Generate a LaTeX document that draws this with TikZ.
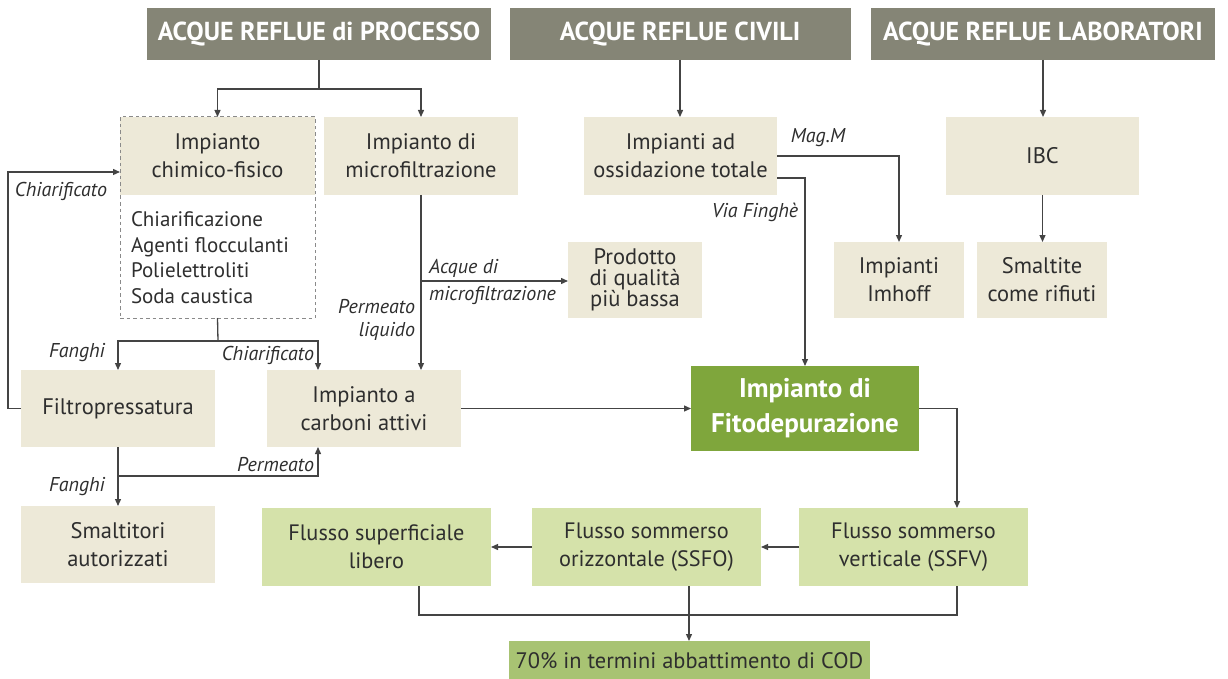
\documentclass[tikz,border=0pt]{standalone}
\usepackage{fontspec}
\setmainfont{PT Sans}
\usetikzlibrary{arrows.meta,calc}
\definecolor{hdr}{HTML}{858576}
\definecolor{beige}{HTML}{EDE9D8}
\definecolor{lgreen}{HTML}{D5E2AA}
\definecolor{dgreen}{HTML}{7FA63C}
\definecolor{mgreen}{HTML}{A8C373}
\definecolor{ink}{HTML}{2E2E2E}
\definecolor{wire}{HTML}{444444}
\definecolor{dashc}{HTML}{8A8A8A}
\begin{document}
\begin{tikzpicture}[x=1pt,y=-1pt,
  every node/.style={inner sep=0pt,outer sep=0pt},
  hdrbox/.style={fill=hdr,text=white,minimum height=52pt,
    font=\fontsize{26}{30}\selectfont\bfseries},
  box/.style={fill=beige,text=ink,align=center,
    font=\fontsize{22.5}{28}\selectfont},
  gbox/.style={fill=lgreen,text=ink,align=center,minimum width=229pt,minimum height=78pt,
    font=\fontsize{22.3}{28}\selectfont},
  lbl/.style={text=ink,font=\fontsize{20}{26}\selectfont\itshape},
  wireline/.style={draw=wire,line width=1.3pt},
  arr/.style={wireline,-{Triangle[length=7pt,width=6pt]}}
]
\useasboundingbox (0,0) rectangle (1228,679);

% source headers
\node[hdrbox,minimum width=344pt] (hProc) at (319,34) {ACQUE REFLUE di PROCESSO};
\node[hdrbox,minimum width=341pt] (hCiv) at (680,34) {ACQUE REFLUE CIVILI};
\node[hdrbox,minimum width=344pt] (hLab) at (1043,34) {ACQUE REFLUE LABORATORI};

% first treatment stage
\node[box,minimum width=195pt,minimum height=78pt] (chem) at (217.5,156) {Impianto\\chimico-fisico};
\node[draw=dashc,dash pattern=on 3.5pt off 3pt,line width=1pt,minimum width=195pt,minimum height=201pt] (chemout) at (217.5,217.5) {};
\node[anchor=west,align=left,text=ink,font=\fontsize{21}{25.7}\selectfont] (chemlist) at (131,257.5)
  {Chiarificazione\\Agenti flocculanti\\Polielettroliti\\Soda caustica};
\node[box,minimum width=194pt,minimum height=78pt] (micro) at (421,156) {Impianto di\\microfiltrazione};
\node[box,minimum width=193pt,minimum height=78pt] (oss) at (680.5,156) {Impianti ad\\ossidazione totale};
\node[box,minimum width=193pt,minimum height=78pt] (ibc) at (1042.5,156) {IBC};

% second stage
\node[box,minimum width=134pt,minimum height=76pt,font=\fontsize{22.5}{20.5}\selectfont] (prod) at (635,280) {Prodotto\\di qualità\\più bassa};
\node[box,minimum width=130pt,minimum height=76pt] (imhoff) at (899,280) {Impianti\\Imhoff};
\node[box,minimum width=130pt,minimum height=76pt] (smaltite) at (1042,280) {Smaltite\\come rifiuti};

\node[box,minimum width=194pt,minimum height=77pt] (filtro) at (118,408.5) {Filtropressatura};
\node[box,minimum width=194pt,minimum height=77pt] (carbon) at (364,408.5) {Impianto a\\carboni attivi};
\node[fill=dgreen,text=white,align=center,minimum width=228pt,minimum height=85pt,
  font=\fontsize{27}{35}\selectfont\bfseries] (fito) at (805,408.5) {Impianto di\\Fitodepurazione};

\node[box,minimum width=194pt,minimum height=77pt] (smaltitori) at (118,544.5) {Smaltitori\\autorizzati};

% constructed wetland stages
\node[gbox] (fsl) at (376.5,547) {Flusso superficiale\\libero};
\node[gbox] (ssfo) at (646.5,547) {Flusso sommerso\\orizzontale (SSFO)};
\node[gbox] (ssfv) at (913.5,547) {Flusso sommerso\\verticale (SSFV)};
\node[fill=mgreen,text=ink,minimum width=361pt,minimum height=40pt,
  font=\fontsize{22.4}{26}\selectfont] (res) at (689.5,661) {70\% in termini abbattimento di COD};

% junction points
\coordinate (pj) at (319,89);
\coordinate (cj) at (218,341);
\coordinate (cIn) at ($(carbon.north)+(-46,0)$);
\coordinate (cOut) at ($(carbon.south)+(-46,0)$);
\coordinate (fj) at (118,476);
\coordinate (mj) at (421,281);
\coordinate (ssfvIn) at ($(ssfv.north)+(43.5,0)$);
\coordinate (ssfvOut) at ($(ssfv.south)+(43.5,0)$);
\coordinate (fslOut) at ($(fsl.south)+(42.5,0)$);
\coordinate (ssfoOut) at ($(ssfo.south)+(42.5,0)$);
\coordinate (bj) at (419,615);

% connectors
\draw[wireline] (hProc.south) -- (pj);
\draw[arr] (pj) -| (chem.north);
\draw[arr] (pj) -| (micro.north);
\draw[arr] (hCiv.south) -- (hCiv.south |- oss.north);
\draw[arr] (hLab.south) -- (hLab.south |- ibc.north);
\draw[arr] (ibc.south) -- (ibc.south |- smaltite.north);
\draw[arr] (oss.east) -| (imhoff.north);
\draw[arr] ([yshift=-22pt]oss.east) -| (fito.north);

\draw[arr] (micro.south) -- (micro.south |- carbon.north);
\draw[arr] (mj) -- (mj -| prod.west);

\draw[wireline] (chemout.south) -- (cj);
\draw[arr] (cj) -| (filtro.north);
\draw[arr] (cj) -| (cIn);
\draw[arr] (filtro.west) -- ++(-13,0) |- ([yshift=-16pt]chem.west);
\draw[arr] (filtro.south) -- (smaltitori.north);
\draw[arr] (fj) -| (cOut);

\draw[arr] (carbon.east) -- (fito.west);
\draw[arr] (fito.east) -| (ssfvIn);
\draw[arr] (ssfv.west) -- (ssfo.east);
\draw[arr] (ssfo.west) -- (fsl.east);
\draw[wireline] (fslOut) |- (bj -| ssfvOut) -- (ssfvOut);
\draw[arr] (ssfoOut) -- (ssfoOut |- res.north);

% flow labels
\node[lbl] (lChiar1) at (61,191) {Chiarificato};
\node[lbl] (lMag) at (818,138) {Mag.M};
\node[lbl] (lVia) at (755,212) {Via Finghè};
\node[lbl,anchor=west] (lAcq1) at (429,268) {Acque di};
\node[lbl,anchor=west] (lAcq2) at (429,295) {microfiltrazione};
\node[lbl,anchor=east] (lPerm1) at (415,307) {Permeato};
\node[lbl,anchor=east] (lPerm2) at (415,331) {liquido};
\node[lbl,anchor=west] (lFang1) at (49,353) {Fanghi};
\node[lbl,anchor=east] (lChiar2) at (314,355) {Chiarificato};
\node[lbl,anchor=east] (lPerm3) at (314,465) {Permeato};
\node[lbl,anchor=west] (lFang2) at (49,487) {Fanghi};
\end{tikzpicture}
\end{document}
